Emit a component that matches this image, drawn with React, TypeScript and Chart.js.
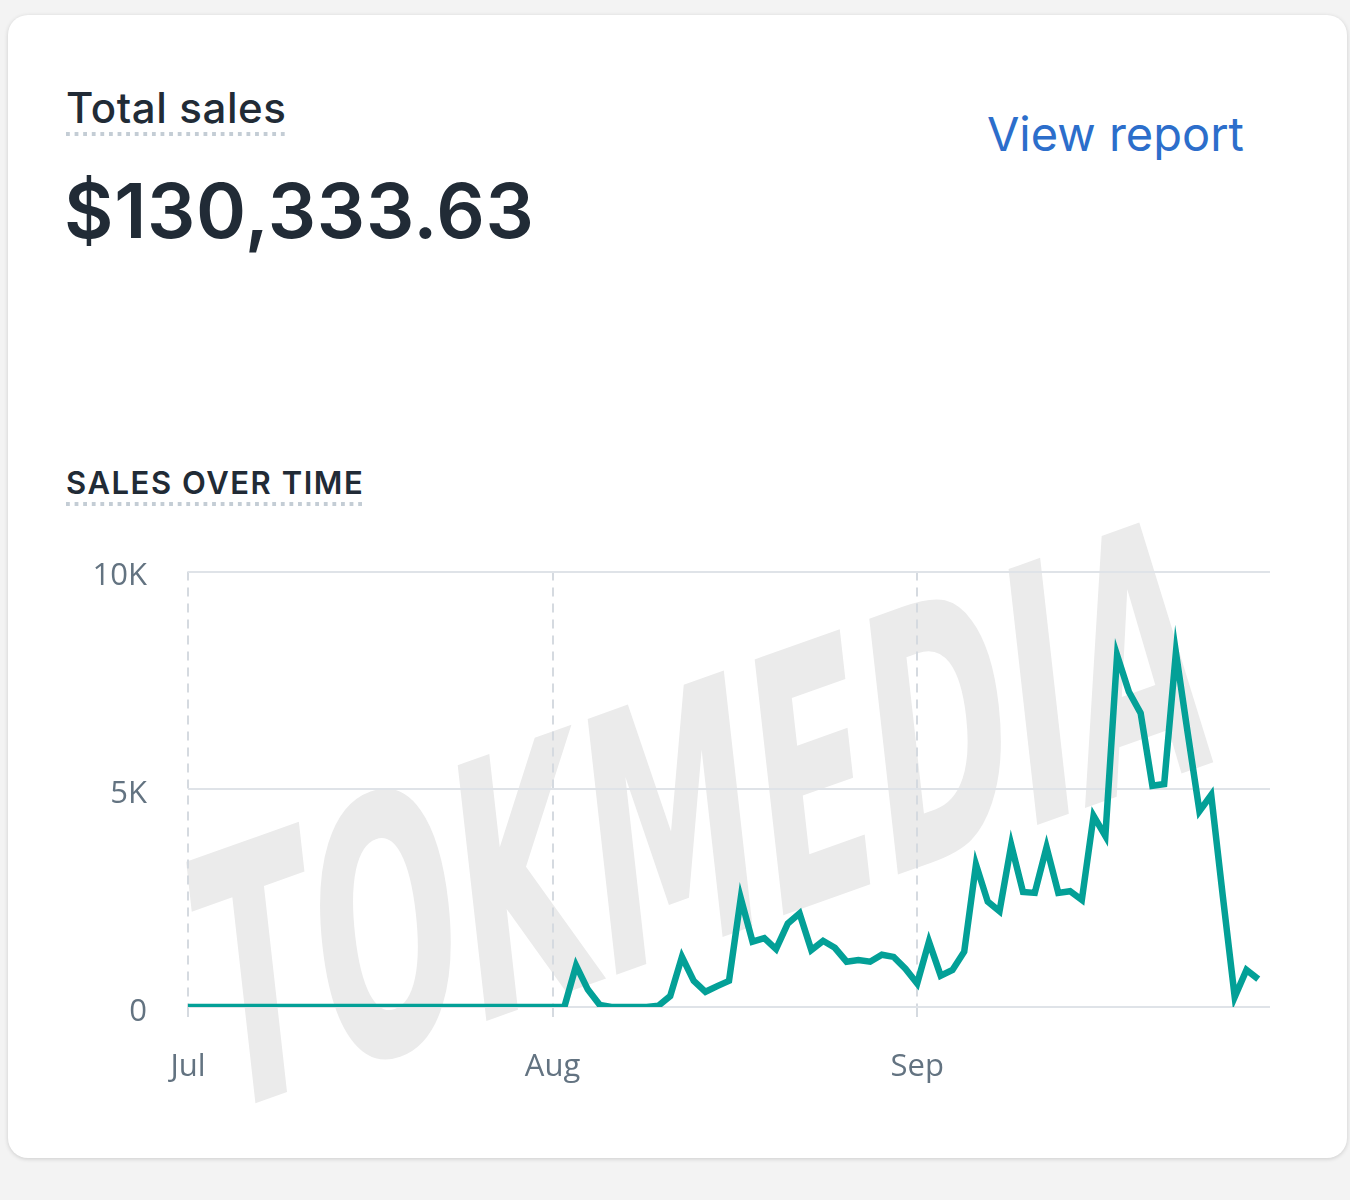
import React, { useEffect, useRef } from 'react';
import { Chart, registerables } from 'chart.js';

Chart.register(...registerables);

// ---- Data (daily sales, Jul 1 – Sep 30) ----
const julySales = [
  0, 0, 0, 0, 0, 0, 0, 0, 0, 0,
  0, 0, 0, 0, 0, 0, 0, 0, 0, 0,
  0, 0, 0, 0, 0, 0, 0, 0, 0, 0, 0,
];
const augustSales = [
  0, 0, 950, 400, 50, 0, 0, 0, 0, 30,
  250, 1150, 600, 350, 480, 600, 2500, 1500, 1580, 1330,
  1920, 2150, 1310, 1520, 1360, 1040, 1080, 1040, 1200, 1150, 880,
];
const septemberSales = [
  540, 1500, 720, 850, 1270, 3270, 2420, 2200, 3720, 2640,
  2620, 3670, 2620, 2660, 2460, 4390, 3930, 8080, 7240, 6750,
  5080, 5120, 8140, 6300, 4500, 4870, 2520, 230, 850, 640,
];

const xTickDays = [0, 31, 62];
const xTickLabels = ['Jul', 'Aug', 'Sep'];
const xAxisEndDay = 92;
const yTickValues = [0, 5000, 10000];
const yTickLabels = ['0', '5K', '10K'];

const totalSalesLabel = 'Total sales';
const totalSalesValue = '$130,333.63';
const viewReportLabel = 'View report';
const chartTitle = 'SALES OVER TIME';
const watermarkText = 'TOKMEDIA';

const dotted = (color: string) => ({
  backgroundImage: `linear-gradient(to right, ${color} 0 4px, transparent 4px 8.6px)`,
  backgroundSize: '8.6px 4px',
  backgroundRepeat: 'repeat-x',
});

function SalesChart() {
  const ref = useRef<HTMLCanvasElement | null>(null);
  useEffect(() => {
    if (!ref.current) return;
    const allSales = [...julySales, ...augustSales, ...septemberSales];
    const points = allSales.map((v, i) => ({ x: i, y: v }));
    const chart = new Chart(ref.current, {
      type: 'line',
      data: {
        datasets: [
          {
            data: points,
            borderColor: '#03a097',
            borderWidth: 6.5,
            pointRadius: 0,
            pointHoverRadius: 0,
            tension: 0,
            fill: false,
            borderJoinStyle: 'miter',
          },
        ],
      },
      options: {
        animation: false,
        responsive: false,
        events: [],
        layout: { padding: { top: 0, right: 30, left: 0, bottom: 0 } },
        plugins: { legend: { display: false }, tooltip: { enabled: false } },
        scales: {
          x: {
            type: 'linear',
            min: 0,
            max: xAxisEndDay,
            afterBuildTicks: (scale: any) => {
              scale.ticks = xTickDays.map((v) => ({ value: v }));
            },
            afterFit: (scale: any) => {
              scale.height = 113;
            },
            ticks: {
              autoSkip: false,
              maxRotation: 0,
              padding: 32,
              color: '#637381',
              font: { family: "'Open Sans', 'Noto Sans', sans-serif", size: 31 },
              callback: (v: any) => {
                const i = xTickDays.indexOf(Number(v));
                return i >= 0 ? xTickLabels[i] : '';
              },
            },
            grid: {
              color: '#d5dae0',
              lineWidth: 2,
              drawTicks: true,
              tickLength: 10,
              tickColor: '#d5dae0',
              tickWidth: 2,
              borderDash: [9, 7],
            } as any,
            border: { display: false, dash: [9, 7] },
          },
          y: {
            min: 0,
            max: 10000,
            afterBuildTicks: (scale: any) => {
              scale.ticks = yTickValues.map((v) => ({ value: v }));
            },
            afterFit: (scale: any) => {
              scale.width = 148;
            },
            ticks: {
              padding: 41,
              labelOffset: 5,
              color: '#637381',
              font: { family: "'Open Sans', 'Noto Sans', sans-serif", size: 31 },
              callback: (v: any) => {
                const i = yTickValues.indexOf(Number(v));
                return i >= 0 ? yTickLabels[i] : '';
              },
            },
            grid: {
              color: '#dfe3e8',
              lineWidth: 2,
              drawTicks: false,
            },
            border: { display: false },
          },
        },
      },
    } as any);
    return () => chart.destroy();
  }, []);
  return (
    <canvas
      ref={ref}
      width={1260}
      height={608}
      style={{ position: 'absolute', left: 40, top: 512, width: 1260, height: 608 }}
    />
  );
}

export default function App() {
  return (
    <div
      style={{
        position: 'relative',
        width: 1350,
        height: 1200,
        background: '#f3f3f3',
        overflow: 'hidden',
        fontFamily: "Inter, Roboto, 'Liberation Sans', sans-serif",
      }}
    >
      <style>{'body{margin:0;background:#f3f3f3;}'}</style>
      <div
        style={{
          position: 'absolute',
          left: 8,
          top: 15,
          width: 1339,
          height: 1143,
          background: '#ffffff',
          borderRadius: 20,
          boxShadow: '0 1px 4px rgba(0,0,0,0.16)',
        }}
      />
      <div
        style={{
          position: 'absolute',
          left: 66,
          top: 87,
          fontSize: 42,
          lineHeight: 1,
          fontWeight: 500,
          color: '#212b36',
          letterSpacing: 0.6,
          whiteSpace: 'nowrap',
        }}
      >
        {totalSalesLabel}
      </div>
      <div style={{ position: 'absolute', left: 66, top: 132, width: 221, height: 4, ...dotted('#c4cdd5') }} />
      <div
        style={{
          position: 'absolute',
          left: 64,
          top: 172,
          fontSize: 76,
          lineHeight: 1,
          fontWeight: 600,
          color: '#212b36',
          letterSpacing: 0.7,
          whiteSpace: 'nowrap',
        }}
      >
        {totalSalesValue}
      </div>
      <div
        style={{
          position: 'absolute',
          right: 1350 - 1244,
          top: 110,
          fontSize: 47,
          lineHeight: 1,
          fontWeight: 400,
          color: '#2c6ecb',
          whiteSpace: 'nowrap',
        }}
      >
        {viewReportLabel}
      </div>
      <div
        style={{
          position: 'absolute',
          left: 66,
          top: 467,
          fontSize: 31,
          lineHeight: 1,
          fontWeight: 600,
          color: '#212b36',
          letterSpacing: 1.55,
          whiteSpace: 'nowrap',
        }}
      >
        {chartTitle}
      </div>
      <div style={{ position: 'absolute', left: 66, top: 502, width: 298, height: 4, ...dotted('#c4cdd5') }} />
      <svg
        width={1350}
        height={1200}
        style={{ position: 'absolute', left: 0, top: 0, pointerEvents: 'none' }}
      >
        <text
          transform="matrix(1 -0.356 0.112 1 214 1118)"
          x={0}
          y={0}
          fontSize={351}
          fontWeight={700}
          fontFamily="'Liberation Sans Narrow', 'DejaVu Sans Condensed', 'Liberation Sans', sans-serif"
          textLength={1000}
          lengthAdjust="spacingAndGlyphs"
          fill="#ebebeb"
        >
          {watermarkText}
        </text>
      </svg>
      <SalesChart />
    </div>
  );
}
